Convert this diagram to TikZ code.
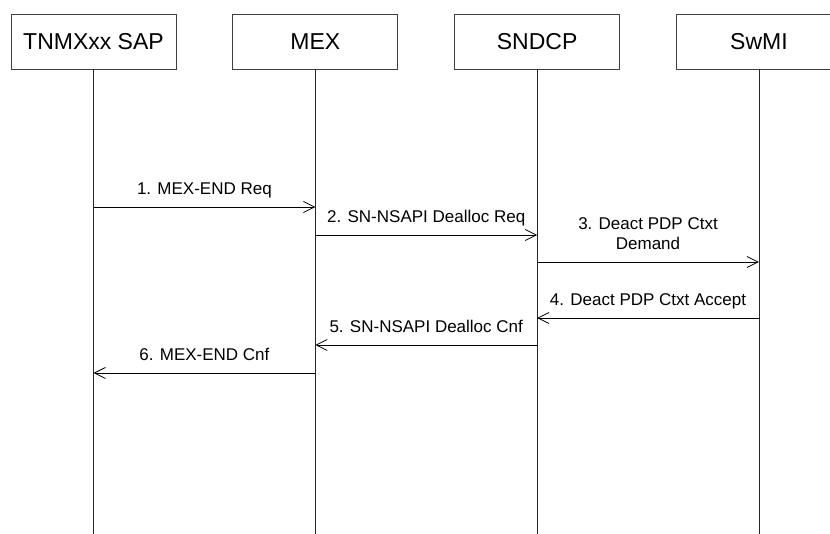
\documentclass[tikz,border=0pt]{standalone}
\usepackage{fontspec}
\setsansfont{Liberation Sans}
\usetikzlibrary{arrows.meta,positioning}

\begin{document}
\begin{tikzpicture}[
  x=1pt, y=1pt,
  font=\sffamily,
  >={Straight Barb[length=11pt,width=11pt]},
  node distance=0pt and 56pt,
  box/.style={draw=black!75, line width=0.8pt, inner sep=0pt,
              minimum width=165pt, minimum height=55pt,
              font=\sffamily\fontsize{23pt}{27pt}\selectfont},
  life/.style={line width=0.8pt, black!85},
  arr/.style={->, line width=0.8pt},
  lbl/.style={above=8pt, inner sep=0pt, text depth=4pt, align=center,
              font=\sffamily\fontsize{17pt}{20pt}\selectfont},
]
  \useasboundingbox (0,0) rectangle (830,-534);

  % entities
  \node[box] (sap) at (93.5,-41.5) {TNMXxx SAP};
  \node[box, right=of sap] (mex) {MEX};
  \node[box, right=of mex] (sndcp) {SNDCP};
  \node[box, right=of sndcp] (swmi) {SwMI};

  % lifelines
  \coordinate (bottom) at (0,-534);
  \foreach \n in {sap,mex,sndcp,swmi}
    \draw[life] (\n.south) -- (\n |- bottom);

  % message levels
  \coordinate (m1) at (0,-207);
  \coordinate (m2) at (0,-235);
  \coordinate (m3) at (0,-262);
  \coordinate (m4) at (0,-318);
  \coordinate (m5) at (0,-345);
  \coordinate (m6) at (0,-373);

  \draw[arr] (sap |- m1) -- node[lbl] {1. MEX-END Req} (mex |- m1);
  \draw[arr] (mex |- m2) -- node[lbl] {2. SN-NSAPI Dealloc Req} (sndcp |- m2);
  \draw[arr] (sndcp |- m3) -- node[lbl] {3. Deact PDP Ctxt\\Demand} (swmi |- m3);
  \draw[arr] (swmi |- m4) -- node[lbl] {4. Deact PDP Ctxt Accept} (sndcp |- m4);
  \draw[arr] (sndcp |- m5) -- node[lbl] {5. SN-NSAPI Dealloc Cnf} (mex |- m5);
  \draw[arr] (mex |- m6) -- node[lbl] {6. MEX-END Cnf} (sap |- m6);
\end{tikzpicture}
\end{document}
